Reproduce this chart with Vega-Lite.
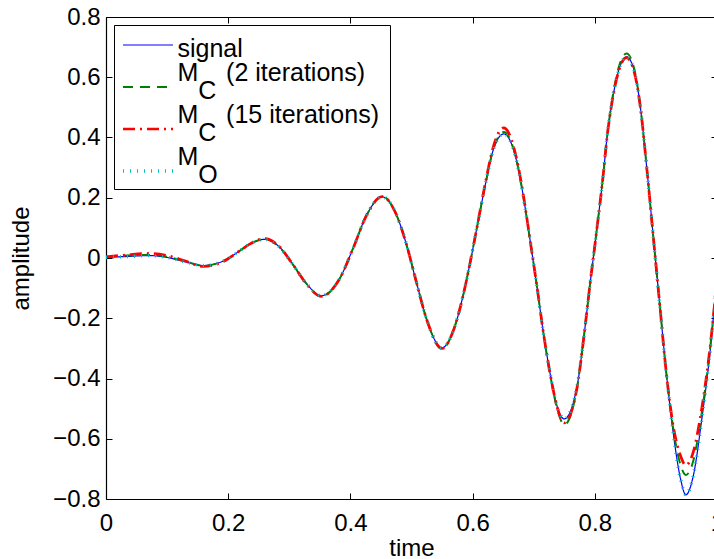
{
  "$schema": "https://vega.github.io/schema/vega-lite/v6.json",
  "width": 611,
  "height": 482,
  "autosize": {"type": "none"},
  "padding": {"left": 106, "top": 17, "right": 0, "bottom": 60},
  "background": "white",
  "config": {
    "font": "Liberation Sans",
    "view": {"stroke": null},
    "axis": {
      "labelFont": "Liberation Sans", "labelFontSize": 24, "labelColor": "black",
      "titleFont": "Liberation Sans", "titleFontSize": 24, "titleFontWeight": "normal", "titleColor": "black",
      "domainColor": "black", "domainWidth": 1.2, "tickColor": "black", "tickWidth": 1, "tickSize": -6, "grid": false,
      "labelFlush": false
    },
    "legend": {
      "labelFont": "Liberation Sans", "labelFontSize": 25, "labelColor": "black", "labelLimit": 600
    },
    "style": {"guide-label": {"lineHeight": -17.5}}
  },
  "data": {"values": [
    {"t":0,"signal":0.002,"mc2":0.003,"mc15":0.004,"mo":0.002},
    {"t":0.034,"signal":0.005,"mc2":0.008,"mc15":0.010,"mo":0.005},
    {"t":0.07,"signal":0.008,"mc2":0.010,"mc15":0.015,"mo":0.008},
    {"t":0.10,"signal":0.002,"mc2":0.004,"mc15":0.008,"mo":0.002},
    {"t":0.13,"signal":-0.013,"mc2":-0.011,"mc15":-0.010,"mo":-0.013},
    {"t":0.159,"signal":-0.025,"mc2":-0.026,"mc15":-0.028,"mo":-0.025},
    {"t":0.192,"signal":-0.010,"mc2":-0.010,"mc15":-0.012,"mo":-0.010},
    {"t":0.219,"signal":0.024,"mc2":0.024,"mc15":0.024,"mo":0.024},
    {"t":0.235,"signal":0.046,"mc2":0.046,"mc15":0.046,"mo":0.046},
    {"t":0.26,"signal":0.062,"mc2":0.063,"mc15":0.064,"mo":0.062},
    {"t":0.284,"signal":0.036,"mc2":0.036,"mc15":0.037,"mo":0.036},
    {"t":0.306,"signal":-0.022,"mc2":-0.022,"mc15":-0.022,"mo":-0.022},
    {"t":0.328,"signal":-0.085,"mc2":-0.085,"mc15":-0.086,"mo":-0.085},
    {"t":0.352,"signal":-0.125,"mc2":-0.128,"mc15":-0.127,"mo":-0.125},
    {"t":0.382,"signal":-0.07,"mc2":-0.07,"mc15":-0.07,"mo":-0.07},
    {"t":0.404,"signal":0.03,"mc2":0.03,"mc15":0.03,"mo":0.03},
    {"t":0.426,"signal":0.14,"mc2":0.14,"mc15":0.14,"mo":0.14},
    {"t":0.452,"signal":0.203,"mc2":0.205,"mc15":0.204,"mo":0.203},
    {"t":0.475,"signal":0.145,"mc2":0.145,"mc15":0.145,"mo":0.145},
    {"t":0.491,"signal":0.05,"mc2":0.05,"mc15":0.05,"mo":0.05},
    {"t":0.508,"signal":-0.08,"mc2":-0.08,"mc15":-0.08,"mo":-0.08},
    {"t":0.525,"signal":-0.205,"mc2":-0.205,"mc15":-0.205,"mo":-0.205},
    {"t":0.55,"signal":-0.298,"mc2":-0.302,"mc15":-0.300,"mo":-0.298},
    {"t":0.569,"signal":-0.238,"mc2":-0.238,"mc15":-0.238,"mo":-0.238},
    {"t":0.585,"signal":-0.12,"mc2":-0.12,"mc15":-0.12,"mo":-0.12},
    {"t":0.596,"signal":-0.015,"mc2":-0.015,"mc15":-0.015,"mo":-0.015},
    {"t":0.607,"signal":0.1,"mc2":0.1,"mc15":0.1,"mo":0.1},
    {"t":0.621,"signal":0.245,"mc2":0.245,"mc15":0.25,"mo":0.245},
    {"t":0.634,"signal":0.36,"mc2":0.362,"mc15":0.37,"mo":0.36},
    {"t":0.651,"signal":0.412,"mc2":0.418,"mc15":0.432,"mo":0.412},
    {"t":0.672,"signal":0.322,"mc2":0.324,"mc15":0.33,"mo":0.322},
    {"t":0.683,"signal":0.205,"mc2":0.205,"mc15":0.21,"mo":0.205},
    {"t":0.694,"signal":0.06,"mc2":0.06,"mc15":0.06,"mo":0.06},
    {"t":0.705,"signal":-0.09,"mc2":-0.09,"mc15":-0.09,"mo":-0.09},
    {"t":0.716,"signal":-0.25,"mc2":-0.25,"mc15":-0.25,"mo":-0.25},
    {"t":0.727,"signal":-0.385,"mc2":-0.388,"mc15":-0.385,"mo":-0.385},
    {"t":0.738,"signal":-0.49,"mc2":-0.497,"mc15":-0.492,"mo":-0.49},
    {"t":0.75,"signal":-0.534,"mc2":-0.553,"mc15":-0.547,"mo":-0.534},
    {"t":0.771,"signal":-0.426,"mc2":-0.43,"mc15":-0.43,"mo":-0.426},
    {"t":0.781,"signal":-0.28,"mc2":-0.28,"mc15":-0.28,"mo":-0.28},
    {"t":0.792,"signal":-0.09,"mc2":-0.09,"mc15":-0.09,"mo":-0.09},
    {"t":0.803,"signal":0.09,"mc2":0.09,"mc15":0.09,"mo":0.09},
    {"t":0.814,"signal":0.28,"mc2":0.28,"mc15":0.28,"mo":0.28},
    {"t":0.82,"signal":0.40,"mc2":0.40,"mc15":0.40,"mo":0.40},
    {"t":0.828,"signal":0.515,"mc2":0.52,"mc15":0.515,"mo":0.515},
    {"t":0.839,"signal":0.622,"mc2":0.632,"mc15":0.62,"mo":0.622},
    {"t":0.852,"signal":0.668,"mc2":0.679,"mc15":0.665,"mo":0.668},
    {"t":0.866,"signal":0.61,"mc2":0.615,"mc15":0.605,"mo":0.61},
    {"t":0.874,"signal":0.51,"mc2":0.51,"mc15":0.51,"mo":0.51},
    {"t":0.885,"signal":0.30,"mc2":0.30,"mc15":0.30,"mo":0.30},
    {"t":0.896,"signal":0.065,"mc2":0.065,"mc15":0.065,"mo":0.065},
    {"t":0.907,"signal":-0.17,"mc2":-0.17,"mc15":-0.17,"mo":-0.17},
    {"t":0.918,"signal":-0.40,"mc2":-0.40,"mc15":-0.40,"mo":-0.40},
    {"t":0.929,"signal":-0.59,"mc2":-0.575,"mc15":-0.565,"mo":-0.59},
    {"t":0.94,"signal":-0.73,"mc2":-0.685,"mc15":-0.655,"mo":-0.73},
    {"t":0.949,"signal":-0.786,"mc2":-0.72,"mc15":-0.688,"mo":-0.786},
    {"t":0.961,"signal":-0.725,"mc2":-0.675,"mc15":-0.645,"mo":-0.725},
    {"t":0.975,"signal":-0.537,"mc2":-0.515,"mc15":-0.50,"mo":-0.537},
    {"t":0.989,"signal":-0.304,"mc2":-0.295,"mc15":-0.29,"mo":-0.304},
    {"t":1.0,"signal":-0.06,"mc2":-0.07,"mc15":-0.07,"mo":-0.06}
  ]},
  "transform": [{"fold": ["signal", "mc2", "mc15", "mo"], "as": ["series", "value"]}],
  "resolve": {"axis": {"x": "independent", "y": "independent"}},
  "layer": [
    {
      "mark": {"type": "line", "interpolate": "monotone"},
      "encoding": {
        "x": {"field": "t", "type": "quantitative", "scale": {"domain": [0, 1], "nice": false},
              "axis": {"orient": "bottom", "values": [0, 0.2, 0.4, 0.6, 0.8, 1], "format": "~g", "title": "time", "labelPadding": 18, "titlePadding": 1}},
        "y": {"field": "value", "type": "quantitative", "scale": {"domain": [-0.8, 0.8], "nice": false},
              "axis": {"orient": "left", "values": [-0.8, -0.6, -0.4, -0.2, 0, 0.2, 0.4, 0.6, 0.8], "format": "~g", "title": "amplitude", "labelPadding": 12, "titlePadding": 19}},
        "color": {"field": "series", "type": "nominal",
                  "scale": {"domain": ["signal", "mc2", "mc15", "mo"], "range": ["#0000FF", "#008000", "#FF0000", "#00BFBF"]},
                  "legend": {"title": null, "orient": "top-left", "offset": 8, "strokeColor": "black", "fillColor": "white", "padding": 11,
                             "symbolType": "M-5,-0.7H5", "symbolSize": 100, "symbolOffset": 10.5, "labelOffset": 17,
                             "gridAlign": "all", "rowPadding": 16, "labelBaseline": "middle",
                             "labelExpr": "datum.value == 'signal' ? 'signal' : datum.value == 'mc2' ? ['\u200b\u00a0\u00a0\u00a0C', 'M\u00a0\u00a0\u00a0\u00a0(2 iterations)'] : datum.value == 'mc15' ? ['\u200b\u00a0\u00a0\u00a0C', 'M\u00a0\u00a0\u00a0\u00a0(15 iterations)'] : ['\u200b\u00a0\u00a0\u00a0O', 'M']"}},
        "strokeDash": {"field": "series", "type": "nominal",
                       "scale": {"domain": ["signal", "mc2", "mc15", "mo"], "range": [[1, 0], [10, 7], [12, 5, 2, 5], [1, 6]]}},
        "strokeWidth": {"field": "series", "type": "nominal",
                        "scale": {"domain": ["signal", "mc2", "mc15", "mo"], "range": [1.2, 3.5, 3.5, 1.2]}}
      }
    },
    {
      "mark": {"type": "point", "opacity": 0},
      "encoding": {
        "x": {"field": "t", "type": "quantitative", "axis": {"orient": "top", "values": [0, 0.2, 0.4, 0.6, 0.8, 1], "labels": false, "title": null}},
        "y": {"field": "value", "type": "quantitative", "axis": {"orient": "right", "values": [-0.8, -0.6, -0.4, -0.2, 0, 0.2, 0.4, 0.6, 0.8], "labels": false, "title": null}}
      }
    }
  ]
}
